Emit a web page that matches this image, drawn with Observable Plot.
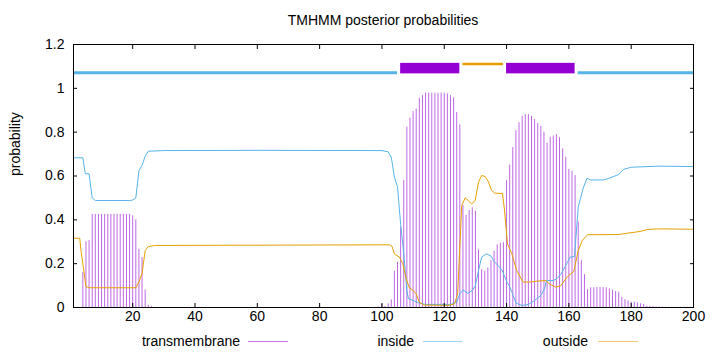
<!DOCTYPE html>
<html><head><meta charset="utf-8">
<script src="https://cdn.jsdelivr.net/npm/d3@7"></script>
<script src="https://cdn.jsdelivr.net/npm/@observablehq/plot@0.6"></script>
<style>
body{margin:0;background:#fff;font-family:"Liberation Sans",Arial,sans-serif;color:#000;}
#wrap{position:relative;width:720px;height:352px;overflow:hidden;}
#title{position:absolute;left:0;width:766px;top:11px;line-height:18px;text-align:center;font-size:14px;}
#chart{position:absolute;left:0;top:30px;}
.lt{position:absolute;top:332px;line-height:18px;font-size:14px;text-align:right;}
.ls{position:absolute;top:341px;height:0;border-top:1px solid;}
</style></head>
<body><div id="wrap">
<div id="title">TMHMM posterior probabilities</div>
<div id="chart"></div>
<div class="lt" style="right:480px">transmembrane</div>
<div class="ls" style="left:248px;width:40px;border-color:rgba(148,0,211,0.55)"></div>
<div class="lt" style="right:306px">inside</div>
<div class="ls" style="left:423px;width:39px;border-color:rgba(86,180,233,0.6)"></div>
<div class="lt" style="right:132px">outside</div>
<div class="ls" style="left:598px;width:40px;border-color:rgba(230,159,0,0.55)"></div>
</div>
<script>
// ---- data ----
const xTicks = [20, 40, 60, 80, 100, 120, 140, 160, 180, 200];
const yTicks = [0, 0.2, 0.4, 0.6, 0.8, 1, 1.2];

// posterior probability of transmembrane, residues 1..200
const tmProb = [
  0,0,0,0.16,0.30,0.305,0.425,0.425,0.425,0.425,
  0.425,0.425,0.425,0.425,0.425,0.425,0.425,0.425,0.425,0.418,
  0.40,0.265,0.228,0.08,0.01,0.005,0,0,0,0,
  0,0,0,0,0,0,0,0,0,0,
  0,0,0,0,0,0,0,0,0,0,
  0,0,0,0,0,0,0,0,0,0,
  0,0,0,0,0,0,0,0,0,0,
  0,0,0,0,0,0,0,0,0,0,
  0,0,0,0,0,0,0,0,0,0,
  0,0,0,0,0,0,0,0,0.003,0.014,
  0.005,0.017,0.035,0.165,0.207,0.367,0.58,0.823,0.864,0.894,
  0.905,0.955,0.967,0.978,0.978,0.978,0.978,0.978,0.978,0.978,
  0.975,0.967,0.957,0.89,0.833,0.465,0.42,0.443,0.455,0.44,
  0.263,0.172,0.165,0.18,0.214,0.257,0.286,0.293,0.296,0.58,
  0.65,0.73,0.807,0.843,0.872,0.88,0.88,0.872,0.858,0.84,
  0.826,0.8,0.75,0.777,0.783,0.788,0.775,0.724,0.686,0.63,
  0.622,0.602,0.39,0.214,0.15,0.082,0.09,0.09,0.091,0.091,
  0.091,0.09,0.085,0.079,0.073,0.07,0.046,0.036,0.03,0.024,
  0.024,0.021,0.017,0.014,0.006,0.005,0.004,0.003,0.002,0.002,
  0.001,0.001,0.001,0.001,0.001,0.001,0.001,0.001,0.001,0.001
];

// inside curve (read points)
const insidePos = [1,4,4.8,6,7,8,19,20,21,22,23,24,25,30,60,100,102,103,104,105,106,107,108,108.5,110,112,114,122,124,125,126,127.5,129,130,131,132,133.5,135,136,137,138.5,140,141,142,143,145,147,149,151,152.2,152.8,155,156,157.5,159.3,160.4,161.8,163,164.5,165.8,167,171,173,176,177.5,180,189,200];
const insideVal = [0.683,0.683,0.61,0.61,0.5,0.488,0.488,0.49,0.5,0.625,0.648,0.69,0.713,0.716,0.717,0.716,0.71,0.686,0.595,0.55,0.38,0.245,0.078,0.04,0.032,0.02,0.014,0.014,0.024,0.062,0.08,0.065,0.078,0.1,0.169,0.23,0.245,0.235,0.21,0.195,0.172,0.12,0.095,0.06,0.02,0.009,0.014,0.032,0.055,0.085,0.123,0.123,0.13,0.153,0.2,0.23,0.233,0.458,0.54,0.59,0.582,0.582,0.59,0.607,0.63,0.64,0.645,0.643];

// outside curve (read points)
const outsidePos = [1,3,3.4,4,5,6,21,22,23,24,25,27,100,102.5,103.2,104,105.6,106.7,107.8,108.8,110,111,112,113.6,121.6,123.3,124.3,125,125.6,126.7,127.7,128.8,129.9,131,132,133.1,134.1,135.2,136.2,138.7,139.3,140.3,141.7,143.2,145.3,147.4,149.5,152.6,153.7,155.8,157.4,159.5,161.6,163,164.3,166,176,178.7,183,185.1,189.4,200];
const outsideVal = [0.316,0.316,0.26,0.2,0.095,0.09,0.09,0.116,0.154,0.26,0.278,0.283,0.286,0.286,0.28,0.245,0.23,0.2,0.13,0.09,0.078,0.062,0.024,0.011,0.01,0.017,0.062,0.28,0.465,0.5,0.488,0.473,0.488,0.572,0.602,0.598,0.576,0.534,0.522,0.52,0.45,0.29,0.245,0.17,0.116,0.116,0.12,0.123,0.108,0.093,0.1,0.14,0.165,0.26,0.306,0.332,0.333,0.339,0.347,0.356,0.359,0.357];

// predicted topology
const topoStart = [1, 106, 126, 140, 163];
const topoEnd   = [105, 125, 139, 162, 200];
const topoType  = ["inside", "TMhelix", "outside", "TMhelix", "inside"];

// ---- build ----
const tmData = tmProb.map((p, i) => ({pos: i + 1, p}));
const inData = insidePos.map((x, i) => ({x, y: insideVal[i]}));
const outData = outsidePos.map((x, i) => ({x, y: outsideVal[i]}));
const topo = topoStart.map((s, i) => ({s, e: topoEnd[i], t: topoType[i]}));

const chart = Plot.plot({
  width: 720,
  height: 298,
  marginTop: 14,
  marginBottom: 21,
  marginLeft: 73,
  marginRight: 27,
  x: {domain: [1, 200]},
  y: {domain: [0, 1.2]},
  style: {fontFamily: "'Liberation Sans', Arial, sans-serif", fontSize: "14px", color: "#000", background: "#fff", overflow: "visible"},
  marks: [
    Plot.ruleX(tmData.filter(d => d.p > 0), {x: "pos", y1: 0, y2: "p", stroke: "#9400d3", strokeOpacity: 0.6, strokeWidth: 1}),
    Plot.line(inData, {x: "x", y: "y", stroke: "#56b4e9", strokeWidth: 1}),
    Plot.line(outData, {x: "x", y: "y", stroke: "#e69f00", strokeWidth: 1}),
    Plot.ruleY(topo.filter(d => d.t === "inside"), {y: 1.071, x1: "s", x2: "e", stroke: "#56b4e9", strokeWidth: 3}),
    Plot.ruleY(topo.filter(d => d.t === "outside"), {y: 1.111, x1: "s", x2: "e", stroke: "#e69f00", strokeWidth: 2.5}),
    Plot.rect(topo.filter(d => d.t === "TMhelix"), {x1: "s", x2: "e", y1: 1.066, y2: 1.114, fill: "#9400d3"}),
    Plot.frame({stroke: "#000"}),
    Plot.axisX({ticks: xTicks, tickSize: -4, tickFormat: () => "", label: null}),
    Plot.axisX({anchor: "top", ticks: xTicks, tickSize: -4, tickFormat: () => "", label: null}),
    Plot.axisY({ticks: yTicks, tickSize: -4, tickFormat: () => "", label: null}),
    Plot.axisY({anchor: "right", ticks: yTicks, tickSize: -4, tickFormat: () => "", label: null}),
    Plot.axisX({ticks: xTicks, tickSize: 0, tickPadding: 4, label: null}),
    Plot.axisY({ticks: yTicks, tickSize: 0, tickPadding: 9, tickFormat: d => String(d), label: null}),
    Plot.text(["probability"], {frameAnchor: "left", rotate: -90, dx: -58, text: d => d, fontSize: 14})
  ]
});
document.getElementById("chart").appendChild(chart);
</script>
</body></html>
